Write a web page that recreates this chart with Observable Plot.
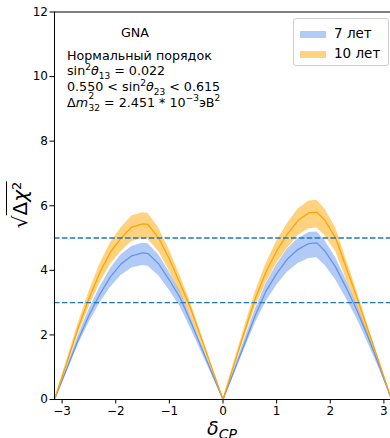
<!DOCTYPE html>
<html><head><meta charset="utf-8">
<script src="https://cdn.jsdelivr.net/npm/d3@7"></script>
<script src="https://cdn.jsdelivr.net/npm/@observablehq/plot@0.6"></script>
<style>
body{margin:0;background:#fff;}
#wrap{position:relative;width:390px;height:438px;font-family:'DejaVu Sans',sans-serif;color:#000;overflow:hidden;}
.ann{position:absolute;font-size:12.7px;line-height:16px;white-space:nowrap;}
.ann sup,.ann sub{font-size:9px;line-height:0;position:relative;vertical-align:baseline;}
.ann sup{top:-0.6em;}
.ann sub{top:0.4em;}
.ss{display:inline-block;position:relative;width:12px;height:0;}
.ss span{position:absolute;left:0.5px;font-size:9px;line-height:9px;}
.ss .sp{bottom:5.5px;}
.ss .sb{top:-2.5px;}
#legend{position:absolute;left:293px;top:18px;width:96px;height:48px;border:1px solid #ccc;border-radius:3px;background:#fff;box-sizing:border-box;}
.lrow{position:absolute;left:6px;font-size:13.5px;white-space:nowrap;line-height:16px;}
.sw{display:inline-block;width:26px;height:7px;vertical-align:0px;margin-right:8px;}
</style></head>
<body>
<div id="wrap"></div>
<script>
const delta = [-3.1416, -2.9, -2.7, -2.5, -2.3, -2.1, -1.9, -1.7, -1.5, -1.4, -1.2, -1.0, -0.8, -0.6, -0.4, -0.2, 0, 0.2, 0.4, 0.6, 0.8, 1.0, 1.2, 1.4, 1.6, 1.75, 1.9, 2.1, 2.3, 2.5, 2.7, 2.9, 3.1416];
const c10  = [0, 1.2, 2.22, 3.13, 3.92, 4.56, 5.0, 5.34, 5.44, 5.42, 5.0, 4.35, 3.6, 2.8, 1.88, 0.94, 0, 1.05, 2.1, 3.12, 3.95, 4.6, 5.12, 5.55, 5.78, 5.8, 5.55, 5.0, 4.07, 3.14, 2.17, 1.2, 0];
const lo10 = [0, 1.1, 2.03, 2.86, 3.59, 4.17, 4.58, 4.89, 4.98, 4.96, 4.58, 3.98, 3.29, 2.56, 1.72, 0.86, 0, 0.96, 1.92, 2.85, 3.61, 4.21, 4.68, 5.08, 5.29, 5.31, 5.08, 4.58, 3.72, 2.87, 1.99, 1.1, 0];
const hi10 = [0, 1.28, 2.36, 3.33, 4.17, 4.85, 5.32, 5.68, 5.78, 5.76, 5.32, 4.63, 3.83, 2.98, 2.0, 1.0, 0, 1.12, 2.23, 3.32, 4.2, 4.89, 5.45, 5.9, 6.15, 6.17, 5.9, 5.32, 4.33, 3.34, 2.31, 1.28, 0];
const c7   = [0, 1.0, 1.85, 2.6, 3.25, 3.8, 4.2, 4.45, 4.54, 4.52, 4.2, 3.7, 3.15, 2.4, 1.6, 0.8, 0, 0.85, 1.72, 2.6, 3.35, 3.9, 4.35, 4.65, 4.83, 4.85, 4.6, 4.1, 3.45, 2.75, 1.95, 1.1, 0];
const lo7  = [0, 0.91, 1.69, 2.38, 2.97, 3.47, 3.84, 4.07, 4.15, 4.13, 3.84, 3.38, 2.88, 2.19, 1.46, 0.73, 0, 0.77, 1.56, 2.35, 3.03, 3.53, 3.94, 4.21, 4.37, 4.39, 4.16, 3.71, 3.12, 2.49, 1.76, 1.0, 0];
const hi7  = [0, 1.07, 1.97, 2.77, 3.46, 4.05, 4.48, 4.74, 4.84, 4.82, 4.48, 3.94, 3.36, 2.56, 1.71, 0.85, 0, 0.91, 1.84, 2.78, 3.58, 4.17, 4.65, 4.98, 5.17, 5.19, 4.92, 4.39, 3.69, 2.94, 2.09, 1.18, 0];
const dashLevels = [3, 5];
const xTicks = [-3, -2, -1, 0, 1, 2, 3];
const yTicks = [0, 2, 4, 6, 8, 10, 12];
const xDomain = [-Math.PI, Math.PI];
const yDomain = [0, 12];
const seriesLabels = ["7 лет", "10 лет"];
const seriesColors = ["cornflowerblue", "orange"];

const rows = delta.map((d, i) => ({d, c10: c10[i], lo10: lo10[i], hi10: hi10[i], c7: c7[i], lo7: lo7[i], hi7: hi7[i]}));

const chart = Plot.plot({
  width: 390, height: 438,
  marginLeft: 54, marginRight: 0, marginTop: 11.5, marginBottom: 39,
  x: {domain: xDomain, range: [54, 391]},
  y: {domain: yDomain, range: [399, 11.5]},
  style: {fontFamily: "DejaVu Sans", fontSize: "12px", color: "#000", background: "#fff"},
  marks: [
    Plot.areaY(rows, {x: "d", y1: "lo7", y2: "hi7", fill: seriesColors[0], fillOpacity: 0.5}),
    Plot.areaY(rows, {x: "d", y1: "lo10", y2: "hi10", fill: seriesColors[1], fillOpacity: 0.5}),
    Plot.lineY(rows, {x: "d", y: "c7", stroke: seriesColors[0], strokeWidth: 1.3}),
    Plot.lineY(rows, {x: "d", y: "c10", stroke: seriesColors[1], strokeWidth: 1.3}),
    Plot.ruleY(dashLevels, {x1: xDomain[0], x2: xDomain[1], stroke: "#1f77b4", strokeDasharray: "5.5,2.4", strokeWidth: 1.4}),
    Plot.axisX({ticks: xTicks, tickSize: 4.5, tickPadding: 2.5, label: null, fontSize: 12, tickFormat: d3.format("d")}),
    Plot.axisY({ticks: yTicks, tickSize: 4.5, tickPadding: 2, label: null, fontSize: 12, tickFormat: d3.format("d")}),
    Plot.ruleX([xDomain[0]], {y1: yDomain[0], y2: yDomain[1], stroke: "#000", strokeWidth: 1}),
    Plot.ruleY(yDomain, {x1: xDomain[0], x2: xDomain[1], stroke: "#000", strokeWidth: 1})
  ]
});
const wrap = document.getElementById("wrap");
wrap.appendChild(chart);

function add(html, style, cls) {
  const el = document.createElement("div");
  el.className = cls || "ann";
  el.setAttribute("style", style);
  el.innerHTML = html;
  wrap.appendChild(el);
  return el;
}
add("GNA", "left:135px;top:25px;transform:translateX(-50%);");
add("Нормальный порядок", "left:67px;top:47.6px;");
add("sin<sup>2</sup><i>θ</i><sub>13</sub> = 0.022", "left:67px;top:63.4px;");
add("0.550 &lt; sin<sup>2</sup><i>θ</i><sub>23</sub> &lt; 0.615", "left:67px;top:79px;");
add("Δ<i>m</i><span class='ss'><span class='sp'>2</span><span class='sb'>32</span></span> = 2.451 * 10<sup>−3</sup>эВ<sup>2</sup>", "left:67px;top:94.5px;");

const leg = document.createElement("div");
leg.id = "legend";
leg.innerHTML = seriesLabels.map((l, i) =>
  `<div class="lrow" style="top:${i === 0 ? 6 : 26}px"><span class="sw" style="background:${seriesColors[i]};opacity:0.5"></span>${l}</div>`).join("");
wrap.appendChild(leg);

add("√<span style='border-top:1.5px solid #000;padding-top:1px'>Δ<i>χ</i><sup style='font-size:13px;line-height:0;position:relative;top:-0.5em;vertical-align:baseline'>2</sup></span>",
  "left:19.5px;top:205px;transform:translate(-50%,-50%) rotate(-90deg);font-size:20px;line-height:24px;", "ann");
add("<i>δ</i><sub style='font-size:14px;line-height:0;position:relative;top:0.3em;vertical-align:baseline'><i>CP</i></sub>",
  "left:222px;top:419px;transform:translateX(-50%);font-size:19px;line-height:19px;", "ann");
</script>
</body></html>
